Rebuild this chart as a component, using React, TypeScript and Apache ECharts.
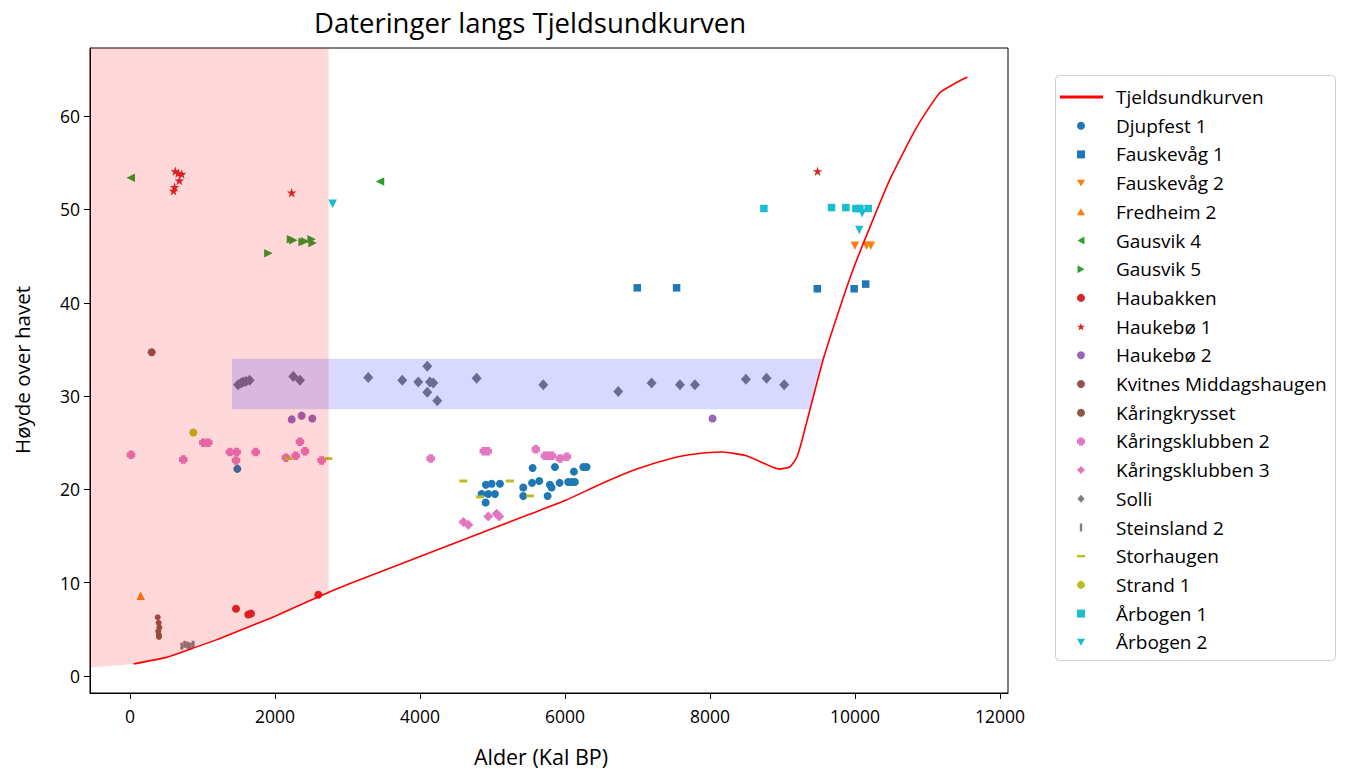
import React, { useEffect, useRef } from "react";
import * as echarts from "echarts";

const X_MIN = -552;
const X_MAX = 12110;
const Y_MIN = -1.82;
const Y_MAX = 67.3;
const xTicks = [0, 2000, 4000, 6000, 8000, 10000, 12000];
const yTicks = [0, 10, 20, 30, 40, 50, 60];

const curveX = [50, 500, 800, 1200, 1650, 2000, 2600, 3000, 3500, 4000, 4500, 5000, 5500, 6000, 6500, 7000, 7500, 7800, 8150, 8500, 8800, 8950, 9100, 9200, 9270, 9340, 9560, 9750, 9970, 10200, 10480, 10850, 11170, 11400, 11550];
const curveY = [1.3, 2.0, 2.8, 3.9, 5.3, 6.4, 8.5, 9.8, 11.3, 12.8, 14.3, 15.8, 17.3, 18.8, 20.6, 22.2, 23.4, 23.8, 24.0, 23.6, 22.6, 22.2, 22.4, 23.5, 25.3, 27.4, 33.9, 38.5, 43.5, 48.0, 53.2, 58.8, 62.5, 63.6, 64.2];

const pinkZone = [[-552, 0.9], [50, 1.3], [500, 2.0], [800, 2.8], [1200, 3.9], [1650, 5.3], [2000, 6.4], [2600, 8.5], [2740, 9.1], [2740, Y_MAX], [-552, Y_MAX]];
const blueZone = [[1407, 28.6], [9381, 28.6], [9563, 34.0], [1407, 34.0]];

const djupfest1 = [[1480, 22.2], [4850, 19.5], [4905, 18.6], [4909, 20.5], [4941, 19.5], [4988, 20.6], [5033, 19.5], [5102, 20.6], [5424, 20.2], [5424, 19.3], [5545, 20.7], [5553, 22.3], [5645, 20.9], [5760, 19.3], [5792, 20.5], [5815, 20.2], [5861, 22.4], [5925, 20.7], [6044, 20.8], [6090, 20.8], [6136, 20.8], [6123, 21.9], [6252, 22.4], [6298, 22.4]];
const fauskevag1 = [[6996, 41.6], [7539, 41.6], [9480, 41.5], [9988, 41.5], [10147, 42.0]];
const fauskevag2 = [[9998, 46.1], [10159, 46.1], [10218, 46.1]];
const fredheim2 = [[147, 8.6]];
const gausvik4 = [[10, 53.4], [3448, 53.0]];
const gausvik5 = [[1908, 45.3], [2220, 46.8], [2252, 46.7], [2381, 46.5], [2413, 46.6], [2505, 46.8], [2519, 46.4]];
const haubakken = [[1462, 7.2], [1632, 6.6], [1669, 6.7], [2597, 8.7]];
const haukebo1 = [[600, 52.0], [615, 52.4], [625, 54.1], [665, 53.9], [680, 53.1], [713, 53.8], [2230, 51.8], [9483, 54.1]];
const haukebo2 = [[2230, 27.5], [2367, 27.9], [2514, 27.6], [8035, 27.6]];
const kvitnes = [[299, 34.7]];
const karingkrysset = [[382, 6.3], [395, 5.7], [405, 5.2], [390, 4.8], [398, 4.4], [400, 4.2]];
const karingsklubben2 = [[14, 23.7], [735, 23.2], [1011, 25.0], [1080, 25.0], [1379, 24.0], [1471, 24.0], [1462, 23.1], [1733, 24.0], [2151, 23.4], [2285, 23.6], [2344, 25.1], [2413, 24.1], [2643, 23.1], [4147, 23.3], [4880, 24.1], [4935, 24.1], [5597, 24.3], [5723, 23.6], [5768, 23.6], [5820, 23.6], [5930, 23.3], [6025, 23.5]];
const karingsklubben3 = [[4597, 16.5], [4666, 16.2], [4941, 17.1], [5056, 17.4], [5093, 17.1]];
const solli = [[1490, 31.2], [1530, 31.4], [1560, 31.5], [1600, 31.6], [1650, 31.7], [2252, 32.1], [2344, 31.7], [3286, 32.0], [3755, 31.7], [3976, 31.5], [4100, 33.2], [4137, 31.5], [4183, 31.4], [4100, 30.4], [4238, 29.5], [4781, 31.9], [5700, 31.2], [6734, 30.5], [7194, 31.4], [7585, 31.2], [7792, 31.2], [8495, 31.8], [8780, 31.9], [9023, 31.2]];
const steinsland2 = [[715, 3.2], [755, 3.4], [795, 3.3], [830, 3.2], [870, 3.4]];
const storhaugen = [[2183, 23.3], [2735, 23.3], [4597, 20.9], [4827, 19.2], [5240, 20.9], [5516, 19.3]];
const strand1 = [[873, 26.1]];
const arbogen1 = [[8743, 50.1], [9676, 50.2], [9874, 50.2], [10012, 50.1], [10067, 50.1], [10182, 50.1]];
const arbogen2 = [[2795, 50.6], [10058, 47.8], [10099, 49.6]];

const SYM: Record<string, string> = {
  circle: "circle",
  square: "path://M0,0H10V10H0Z",
  triDown: "path://M0,0L10,0L5,8.66Z",
  triUp: "path://M5,0L10,8.66L0,8.66Z",
  triLeft: "path://M0,5L8.66,0L8.66,10Z",
  triRight: "path://M0,0L8.66,5L0,10Z",
  star: "path://M50,0L61.8,35.3L97.6,34.5L69.1,56.5L79.4,90.5L50,70L20.6,90.5L30.9,56.5L2.4,34.5L38.2,35.3Z",
  plus: "path://M2.2,0H7.8V2.2H10V7.8H7.8V10H2.2V7.8H0V2.2H2.2Z",
  diamond: "path://M5,0L10,5L5,10L0,5Z",
  thinDiamond: "path://M4.5,0L9,5L4.5,10L0,5Z",
  vline: "path://M0,0H3V10H0Z",
  hline: "path://M0,0H10V3H0Z",
};

const scatterDefs: Array<{ name: string; data: number[][]; color: string; symbol: string; size: number | number[] }> = [
  { name: "Djupfest 1", data: djupfest1, color: "#1f77b4", symbol: SYM.circle, size: 8 },
  { name: "Fauskevåg 1", data: fauskevag1, color: "#1f77b4", symbol: SYM.square, size: 7.5 },
  { name: "Fauskevåg 2", data: fauskevag2, color: "#ff7f0e", symbol: SYM.triDown, size: 8.5 },
  { name: "Fredheim 2", data: fredheim2, color: "#ff7f0e", symbol: SYM.triUp, size: 8.5 },
  { name: "Gausvik 4", data: gausvik4, color: "#2ca02c", symbol: SYM.triLeft, size: 8.5 },
  { name: "Gausvik 5", data: gausvik5, color: "#2ca02c", symbol: SYM.triRight, size: 8.5 },
  { name: "Haubakken", data: haubakken, color: "#d62728", symbol: SYM.circle, size: 8 },
  { name: "Haukebø 1", data: haukebo1, color: "#d62728", symbol: SYM.star, size: 9.5 },
  { name: "Haukebø 2", data: haukebo2, color: "#9467bd", symbol: SYM.circle, size: 8 },
  { name: "Kvitnes Middagshaugen", data: kvitnes, color: "#8c564b", symbol: SYM.circle, size: 8 },
  { name: "Kåringkrysset", data: karingkrysset, color: "#8c564b", symbol: SYM.circle, size: 6 },
  { name: "Kåringsklubben 2", data: karingsklubben2, color: "#e377c2", symbol: SYM.plus, size: 8.5 },
  { name: "Kåringsklubben 3", data: karingsklubben3, color: "#e377c2", symbol: SYM.diamond, size: 10 },
  { name: "Solli", data: solli, color: "#7f7f7f", symbol: SYM.thinDiamond, size: [10, 11] },
  { name: "Steinsland 2", data: steinsland2, color: "#7f7f7f", symbol: SYM.vline, size: [3, 7] },
  { name: "Storhaugen", data: storhaugen, color: "#bcbd22", symbol: SYM.hline, size: [8, 3] },
  { name: "Strand 1", data: strand1, color: "#bcbd22", symbol: SYM.circle, size: 8 },
  { name: "Årbogen 1", data: arbogen1, color: "#17becf", symbol: SYM.square, size: 7.5 },
  { name: "Årbogen 2", data: arbogen2, color: "#17becf", symbol: SYM.triDown, size: 8.5 },
];

const FONT = "Open Sans";
const ROW = 28.7;
const FIRST_ROW = 97;
const LEGEND_FS = 19;
const TEXT_H = 20;

export default function App() {
  const ref = useRef<HTMLDivElement>(null);
  useEffect(() => {
    if (!ref.current) return;
    const chart = echarts.init(ref.current, undefined, { renderer: "svg" });
    const curveData = curveX.map((x, i) => [x, curveY[i]]);
    const series: any[] = [
      {
        type: "line",
        name: "Tjeldsundkurven",
        data: curveData,
        symbol: "none",
        smooth: 0.2,
        lineStyle: { color: "#ff0000", width: 1.6 },
        itemStyle: { color: "#ff0000" },
        z: 6,
      },
      ...scatterDefs.map((d) => ({
        type: "scatter",
        name: d.name,
        data: d.data,
        symbol: d.symbol,
        symbolSize: d.size,
        itemStyle: { color: d.color, opacity: 1 },
        z: 2,
      })),
      {
        type: "custom",
        name: "pinkZone",
        coordinateSystem: "cartesian2d",
        silent: true,
        z: 3,
        data: [[0, 0]],
        renderItem: (_p: any, api: any) => ({
          type: "polygon",
          shape: { points: pinkZone.map((p) => api.coord(p)) },
          style: { fill: "rgba(255,0,0,0.15)" },
        }),
      },
      {
        type: "custom",
        name: "blueZone",
        coordinateSystem: "cartesian2d",
        silent: true,
        z: 4,
        data: [[0, 0]],
        renderItem: (_p: any, api: any) => ({
          type: "polygon",
          shape: { points: blueZone.map((p) => api.coord(p)) },
          style: { fill: "rgba(0,0,255,0.15)" },
        }),
      },
    ];
    const textStyle = { fontSize: LEGEND_FS, fontFamily: FONT, color: "#000", lineHeight: TEXT_H };
    chart.setOption({
      animation: false,
      textStyle: { fontFamily: FONT },
      grid: { left: 90, top: 48, width: 918, height: 645, show: true, borderColor: "#000", borderWidth: 1, backgroundColor: "transparent" },
      xAxis: {
        type: "value",
        min: X_MIN,
        max: X_MAX,
        splitLine: { show: false },
        axisLine: { show: true, onZero: false, lineStyle: { color: "#000", width: 1 } },
        axisTick: { show: true, length: 6, customValues: xTicks, lineStyle: { color: "#000" } },
        axisLabel: { customValues: xTicks, formatter: (v: number) => String(v), color: "#000", fontSize: 17.5, fontFamily: FONT, margin: 14 },
      },
      yAxis: {
        type: "value",
        min: Y_MIN,
        max: Y_MAX,
        splitLine: { show: false },
        axisLine: { show: true, onZero: false, lineStyle: { color: "#000", width: 1 } },
        axisTick: { show: true, length: 6, customValues: yTicks, lineStyle: { color: "#000" } },
        axisLabel: { customValues: yTicks, formatter: (v: number) => String(v), color: "#000", fontSize: 17.5, fontFamily: FONT, margin: 10 },
      },
      legend: [
        {
          orient: "vertical",
          left: 1060,
          top: FIRST_ROW - TEXT_H / 2,
          padding: 0,
          itemWidth: 43,
          itemHeight: 3,
          icon: "rect",
          data: [{ name: "Tjeldsundkurven" }],
          textStyle: { ...textStyle, padding: [0, 0, 0, 8] },
          selectedMode: false,
          z: 10,
        },
        {
          orient: "vertical",
          left: 1077,
          top: FIRST_ROW + ROW - TEXT_H / 2,
          padding: 0,
          itemGap: ROW - TEXT_H,
          itemWidth: 8,
          itemHeight: 8,
          data: scatterDefs.map((d) => ({ name: d.name })),
          textStyle: { ...textStyle, padding: [0, 0, 0, 26] },
          selectedMode: false,
          z: 10,
        },
      ],
      graphic: [
        {
          type: "rect",
          left: 1055,
          top: 75,
          shape: { width: 280, height: 585, r: 4 },
          style: { fill: "#fff", stroke: "#d0d0d0", lineWidth: 1 },
          z: 1,
        },
        {
          type: "text",
          x: 530,
          y: 22,
          style: { text: "Dateringer langs Tjeldsundkurven", font: `27.5px "${FONT}"`, fill: "#000", textAlign: "center", textVerticalAlign: "middle" },
        },
        {
          type: "text",
          x: 541,
          y: 756,
          style: { text: "Alder (Kal BP)", font: `21.5px "${FONT}"`, fill: "#000", textAlign: "center", textVerticalAlign: "middle" },
        },
        {
          type: "text",
          x: 22,
          y: 370,
          rotation: Math.PI / 2,
          style: { text: "Høyde over havet", font: `20.5px "${FONT}"`, fill: "#000", textAlign: "center", textVerticalAlign: "middle" },
        },
      ],
      series,
    });
    return () => chart.dispose();
  }, []);
  return <div ref={ref} style={{ position: "absolute", left: 0, top: 0, width: 1351, height: 769 }} />;
}
